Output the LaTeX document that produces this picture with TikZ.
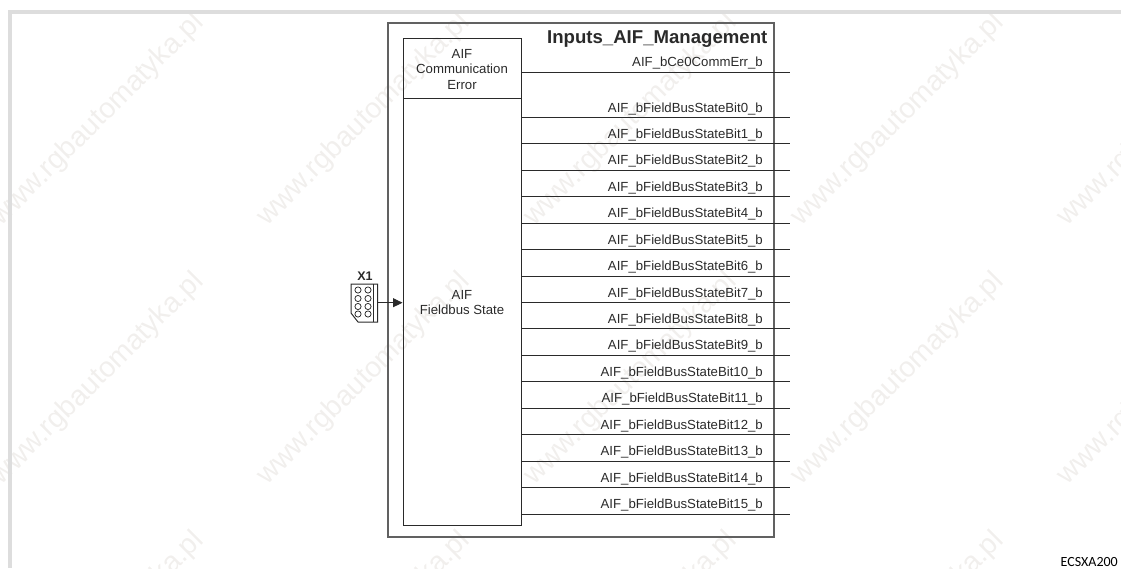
\documentclass[tikz,border=0pt]{standalone}
\usepackage{fontspec}
\setmainfont{Liberation Sans}
\newfontfamily\codefont{Carlito}
\usetikzlibrary{arrows.meta}
\definecolor{inkc}{HTML}{2A2A2A}
\definecolor{framec}{HTML}{DDDDDD}
\definecolor{markc}{HTML}{F1EFED}
\tikzset{
  wmark/.style={font=\fontsize{28.5}{28.5}\selectfont,text=markc,rotate=45,inner sep=0pt},
  outerbox/.style={draw=black!62,line width=1.1pt,minimum width=386pt,minimum height=514pt,inner sep=0pt},
  blockbox/.style={draw=inkc,line width=1pt,minimum width=118pt,inner sep=0pt},
  blocktext/.style={font=\fontsize{13.2}{15.6}\selectfont,text=inkc,align=center},
  siglabel/.style={font=\fontsize{13.2}{15}\selectfont,text=inkc,anchor=base east,inner sep=0pt,yshift=5.5pt},
  sigline/.style={draw=inkc,line width=0.9pt},
  pinhole/.style={circle,draw=inkc,line width=0.75pt,minimum size=6.2pt,inner sep=0pt}
}
\begin{document}
\begin{tikzpicture}[x=1pt,y=-1pt]
\useasboundingbox (0,0) rectangle (1121,568);
% watermark
\foreach \wx in {98,364,631,898,1164}{
  \foreach \wy in {120,379,638}{
    \node[wmark] at (\wx,\wy) {www.rgbautomatyka.pl};
  }
}
% page frame
\fill[framec] (8,10) rectangle (1121,14);
\fill[framec] (8,10) rectangle (12,568);
% boxes
\node[outerbox] (outer) at (581,280) {};
\node[blockbox,minimum height=60.5pt] (err) at (462,68.25) {};
\node[blockbox,minimum height=426.5pt] (state) at (462,311.75) {};
\node[blocktext,yshift=-1pt] (errtext) at (err.center) {AIF\\Communication\\Error};
\node[blocktext] (statetext) at (462,302.5) {AIF\\Fieldbus State};
\node[font=\bfseries\fontsize{18.6}{20}\selectfont,text=inkc,anchor=base east,inner sep=0pt] (title) at (767.5,43) {Inputs\_AIF\_Management};
% outputs
\coordinate (o0) at (790,72);
\draw[sigline] (err.east |- o0) -- (o0);
\node[siglabel] (l0) at (763,72) {AIF\_bCe0CommErr\_b};
\foreach \n [evaluate=\n as \yy using 117.5+26.43*\n] in {0,...,15}{
  \coordinate (b\n) at (790,\yy);
  \draw[sigline] (state.east |- b\n) -- (b\n);
  \node[siglabel] (lb\n) at (763,\yy) {AIF\_bFieldBusStateBit\n\_b};
}
% connector X1
\coordinate (xa) at (351,284);
\coordinate (xb) at (377.7,284);
\coordinate (xc) at (377.7,322);
\coordinate (xd) at (358,322);
\coordinate (xe) at (351,313);
\draw[inkc,line width=1pt,line join=miter] (xa) -- (xb) -- (xc) -- (xd) -- (xe) -- cycle;
\coordinate (xf) at (373.5,284);
\coordinate (xg) at (373.5,322);
\draw[inkc,line width=0.8pt] (xf) -- (xg);
\foreach \py [count=\i] in {290,298.5,306.5,314}{
  \node[pinhole] (pa\i) at (358,\py) {};
  \node[pinhole] (pb\i) at (368,\py) {};
}
\node[font=\bfseries\fontsize{12.5}{14}\selectfont,text=inkc,inner sep=0pt] (x1) at (365,276) {X1};
\coordinate (xout) at (377.7,302.7);
\draw[inkc,line width=0.9pt,-{Triangle[length=9.5pt,width=9pt]}] (xout) -- (state.west |- xout);
% code
\node[font=\codefont\fontsize{14}{16}\selectfont,text=black,anchor=base east,inner sep=0pt] (code) at (1118,566) {ECSXA200};
\end{tikzpicture}
\end{document}
